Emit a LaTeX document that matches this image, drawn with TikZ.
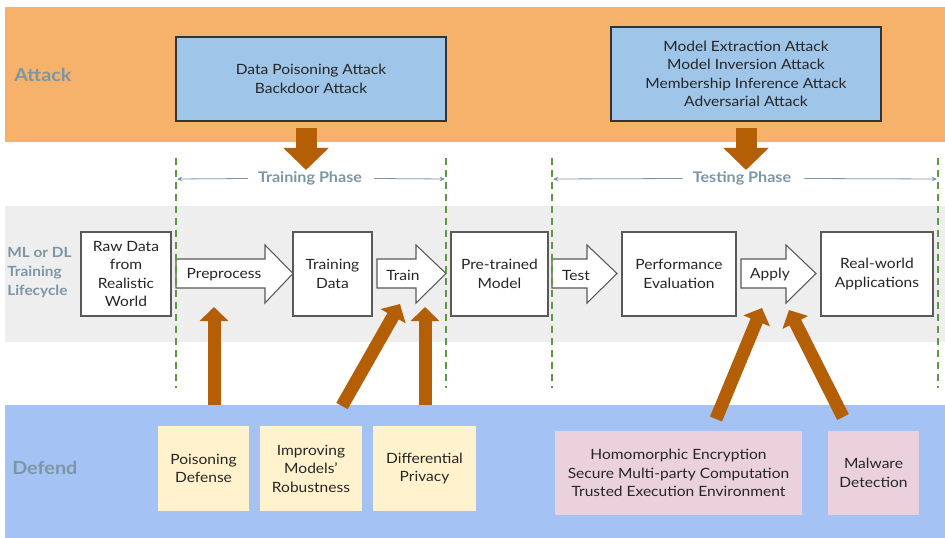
\documentclass[tikz,border=0pt]{standalone}
\usepackage{fontspec}
\setmainfont{Lato}[FakeStretch=1.1]
\usetikzlibrary{arrows.meta,calc}
\definecolor{attackband}{HTML}{F6B26B}
\definecolor{attackfill}{HTML}{9FC5E8}
\definecolor{lifeband}{HTML}{EEEEEE}
\definecolor{defendband}{HTML}{A4C2F4}
\definecolor{yellowbox}{HTML}{FFF2CC}
\definecolor{pinkbox}{HTML}{EAD1DC}
\definecolor{arrowbrown}{HTML}{B45F06}
\definecolor{phasegreen}{HTML}{5B9A3F}
\definecolor{labelgray}{HTML}{7D96A5}
\definecolor{txt}{HTML}{262626}
\tikzset{
  bandlabel/.style={anchor=west, inner sep=0pt, text=labelgray, align=left,
    font=\bfseries\fontsize{13.5}{16}\selectfont},
  lifelabel/.style={anchor=west, inner sep=0pt, text=labelgray, align=left,
    font=\bfseries\fontsize{10.5}{14.25}\selectfont},
  boxtext/.style={text=txt, align=center, inner sep=0pt,
    font=\fontsize{10.6}{13.8}\selectfont},
  attackbox/.style={boxtext, draw=black!80, fill=attackfill, line width=0.8pt},
  stepbox/.style={boxtext, draw=black!65, fill=white, line width=0.8pt},
  yellowdef/.style={boxtext, fill=yellowbox},
  pinkdef/.style={boxtext, fill=pinkbox},
  flowarrow/.style={draw=black!65, fill=white, line width=0.8pt},
  phaseline/.style={draw=labelgray, line width=0.6pt},
  phasetext/.style={text=labelgray, inner sep=0pt, font=\bfseries\fontsize{11}{13}\selectfont},
  phasedash/.style={draw=phasegreen, line width=1.5pt, dash pattern=on 5.25pt off 3.75pt},
  bigdown/.style={draw=arrowbrown, line width=15.75pt, -{Triangle[width=33pt,length=16.5pt]}},
  bigup/.style={draw=arrowbrown, line width=9.75pt, -{Triangle[width=21pt,length=10.5pt]}},
}
\begin{document}
\begin{tikzpicture}[x=0.75pt,y=-0.75pt]
\useasboundingbox (0,0) rectangle (945,538);
\fill[white] (0,0) rectangle (945,538);
% bands
\fill[attackband] (5,7) rectangle (945,142);
\fill[lifeband] (5,206) rectangle (945,342);
\fill[defendband] (5,405) rectangle (945,538);
% band labels
\node[bandlabel] (lblattack) at (14,75) {Attack};
\node[lifelabel] (lbllife) at (7,273) {ML or DL\\Training\\Lifecycle};
\node[bandlabel] (lbldefend) at (12,468) {Defend};
% attack boxes
\node[attackbox, minimum width=202.5pt, minimum height=63pt] (atk1) at (311,79)
  {Data Poisoning Attack\\Backdoor Attack};
\node[attackbox, minimum width=202.5pt, minimum height=70.5pt] (atk2) at (746,74)
  {Model Extraction Attack\\Model Inversion Attack\\Membership Inference Attack\\Adversarial Attack};
% big down arrows
\coordinate (d1s) at (306,128); \coordinate (d1e) at (306,170);
\coordinate (d2s) at (746,128); \coordinate (d2e) at (746,170);
\draw[bigdown] (d1s) -- (d1e);
\draw[bigdown] (d2s) -- (d2e);
% lifecycle boxes
\node[stepbox, minimum width=67.5pt, minimum height=63pt] (raw) at (126,274)
  {Raw Data\\from\\Realistic\\World};
\node[stepbox, minimum width=59.25pt, minimum height=63pt] (tdata) at (332.5,274)
  {Training\\Data};
\node[stepbox, minimum width=72.75pt, minimum height=63pt] (pretrained) at (499.5,274)
  {Pre-trained\\Model};
\node[stepbox, minimum width=85.5pt, minimum height=63pt] (perf) at (679,274)
  {Performance\\Evaluation};
\node[stepbox, minimum width=84pt, minimum height=63pt] (realworld) at (877,274)
  {Real-world\\Applications};
% flow arrows
\draw[flowarrow] (176,259) -- (265,259) -- (265,245) -- (293,273.5) -- (265,303) -- (265,288) -- (176,288) -- cycle;
\draw[flowarrow] (377,259) -- (416,259) -- (416,245) -- (446,273.5) -- (416,303) -- (416,288) -- (377,288) -- cycle;
\draw[flowarrow] (552,259) -- (587,259) -- (587,245) -- (617,273.5) -- (587,303) -- (587,288) -- (552,288) -- cycle;
\draw[flowarrow] (741,259) -- (786,259) -- (786,245) -- (816,273.5) -- (786,303) -- (786,288) -- (741,288) -- cycle;
\node[boxtext] (preprocess) at (224,275) {Preprocess};
\node[boxtext] (train) at (403,275) {Train};
\node[boxtext] (test) at (576,275) {Test};
\node[boxtext] (apply) at (770,275) {Apply};
% phase dashed lines
\coordinate (v1t) at (176,158); \coordinate (v1b) at (176,388);
\coordinate (v2t) at (446,158); \coordinate (v2b) at (446,388);
\coordinate (v3t) at (552,158); \coordinate (v3b) at (552,388);
\coordinate (v4t) at (938,158); \coordinate (v4b) at (938,388);
\draw[phasedash] (v1t) -- (v1b);
\draw[phasedash] (v2t) -- (v2b);
\draw[phasedash] (v3t) -- (v3b);
\draw[phasedash] (v4t) -- (v4b);
% phase labels
\node[phasetext] (trainphase) at (310,178.5) {Training Phase};
\node[phasetext] (testphase) at (742,178.5) {Testing Phase};
\coordinate (p1l) at (177,179); \coordinate (p1r) at (445,179);
\coordinate (p2l) at (553,179); \coordinate (p2r) at (937,179);
\draw[phaseline, -{Stealth[length=4pt,width=3.5pt]}] ($(trainphase.west)+(-10,0)$) -- (p1l);
\draw[phaseline, -{Stealth[length=4pt,width=3.5pt]}] ($(trainphase.east)+(12,0)$) -- (p1r);
\draw[phaseline, -{Stealth[length=4pt,width=3.5pt]}] ($(testphase.west)+(-10,0)$) -- (p2l);
\draw[phaseline, -{Stealth[length=4pt,width=3.5pt]}] ($(testphase.east)+(13,0)$) -- (p2r);
% defend boxes
\node[yellowdef, minimum width=68.25pt, minimum height=63.75pt] (poisdef) at (203.5,468.5)
  {Poisoning\\Defense};
\node[yellowdef, minimum width=76.5pt, minimum height=63.75pt] (robust) at (311,468.5)
  {Improving\\Models'\\Robustness};
\node[yellowdef, minimum width=77.25pt, minimum height=63.75pt] (dp) at (424.5,468.5)
  {Differential\\Privacy};
\node[pinkdef, minimum width=185.25pt, minimum height=63pt] (crypto) at (678.5,473)
  {Homomorphic Encryption\\Secure Multi-party Computation\\Trusted Execution Environment};
\node[pinkdef, minimum width=68.25pt, minimum height=63pt] (malware) at (873.5,473)
  {Malware\\Detection};
% up arrows
\coordinate (u1s) at (214,405); \coordinate (u1e) at (214,307);
\coordinate (u2s) at (342,406); \coordinate (u2e) at (400,304);
\coordinate (u3s) at (425,405); \coordinate (u3e) at (425,307);
\coordinate (u4s) at (716,419); \coordinate (u4e) at (762,308);
\coordinate (u5s) at (843,417); \coordinate (u5e) at (789,310);
\draw[bigup] (u1s) -- (u1e);
\draw[bigup] (u2s) -- (u2e);
\draw[bigup] (u3s) -- (u3e);
\draw[bigup] (u4s) -- (u4e);
\draw[bigup] (u5s) -- (u5e);
\end{tikzpicture}
\end{document}
